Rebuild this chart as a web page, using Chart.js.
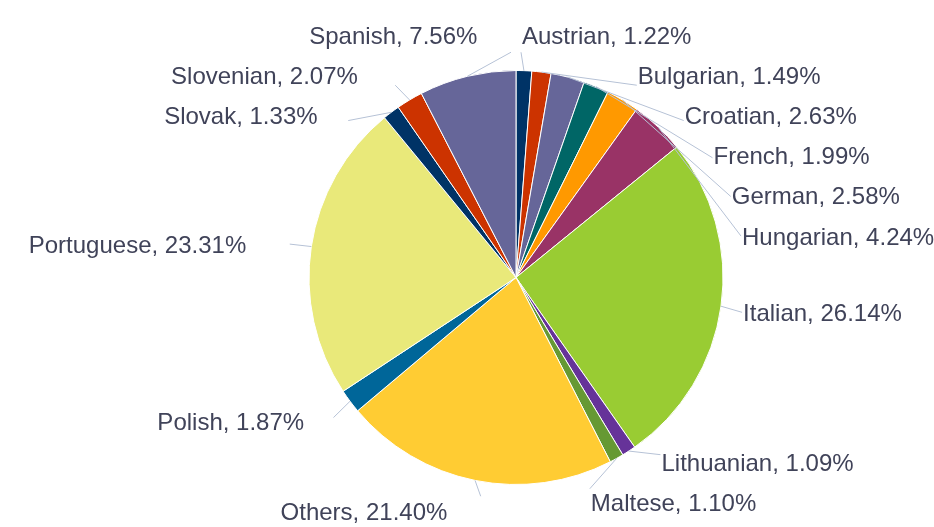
<!DOCTYPE html>
<html>
<head>
<meta charset="utf-8">
<script src="https://cdn.jsdelivr.net/npm/chart.js@4.4.1/dist/chart.umd.min.js"></script>
<style>
  html, body { margin: 0; padding: 0; background: #fff; }
</style>
</head>
<body>
<canvas id="chart" width="934" height="527"></canvas>
<script>
const languages = [
  "Austrian", "Bulgarian", "Croatian", "French", "German", "Hungarian",
  "Italian", "Lithuanian", "Maltese", "Others", "Polish", "Portuguese",
  "Slovak", "Slovenian", "Spanish"
];
const shares = [
  1.22, 1.49, 2.63, 1.99, 2.58, 4.24,
  26.14, 1.09, 1.10, 21.40, 1.87, 23.31,
  1.33, 2.07, 7.56
];
const sliceColors = [
  "#003366", "#cc3300", "#666699", "#006666", "#ff9900", "#993366",
  "#99cc33", "#663399", "#669933", "#ffcc33", "#006699", "#e9e97a",
  "#003366", "#cc3300", "#666699"
];

// spread labels of one side so they keep a minimum vertical gap
function spread(list, minY, maxY, gap) {
  const groups = list.map(it => ({ items: [it] }));
  const place = g => {
    const n = g.items.length;
    const mean = g.items.reduce((s, it) => s + it.ny, 0) / n;
    let top = mean - (n - 1) * gap / 2;
    top = Math.max(minY, Math.min(top, maxY - (n - 1) * gap));
    g.top = top;
  };
  groups.forEach(place);
  let merged = true;
  while (merged) {
    merged = false;
    for (let i = 0; i < groups.length - 1; i++) {
      const a = groups[i], b = groups[i + 1];
      if (a.top + a.items.length * gap > b.top) {
        a.items = a.items.concat(b.items);
        groups.splice(i + 1, 1);
        place(a);
        merged = true;
        break;
      }
    }
  }
  groups.forEach(g => g.items.forEach((it, k) => { it.ty = g.top + k * gap; }));
}

const outsideLabels = {
  id: "outsideLabels",
  afterDatasetsDraw(chart) {
    const arcs = chart.getDatasetMeta(0).data;
    if (!arcs.length) return;
    const ctx = chart.ctx;
    const cx = arcs[0].x, cy = arcs[0].y, r = arcs[0].outerRadius;
    ctx.save();
    ctx.font = '24px "Liberation Sans", Arial, sans-serif';
    const items = arcs.map((arc, i) => {
      const mid = (arc.startAngle + arc.endAngle) / 2;
      const text = languages[i] + ", " + shares[i].toFixed(2) + "%";
      return {
        text,
        right: Math.cos(mid) >= 0,
        px: cx + r * Math.cos(mid),
        py: cy + r * Math.sin(mid),
        ny: cy + 2 + (r + 30) * Math.sin(mid),
        w: ctx.measureText(text).width
      };
    });
    [true, false].forEach(side => {
      spread(items.filter(it => it.right === side).sort((a, b) => a.ny - b.ny), 35, 516, 40.2);
    });

    const ax = r + 16.5, bx = r + 29.5;
    items.forEach(it => {
      const dy = it.ty - cy;
      const k = dy / bx;
      const ex = Math.sqrt(Math.max(0, 1 - k * k)) * ax;
      const anchorX = it.right ? cx + 5 + ex : cx - 5 - ex;
      const endY = it.ty - 16 * k * k * k;

      ctx.strokeStyle = "#b6c2d6";
      ctx.lineWidth = 1;
      ctx.beginPath();
      ctx.moveTo(it.px, it.py);
      ctx.lineTo(anchorX, endY);
      ctx.stroke();

      ctx.fillStyle = "#404359";
      ctx.textBaseline = "middle";
      if (it.right) {
        ctx.textAlign = "left";
        ctx.fillText(it.text, anchorX + 1, it.ty + 2);
      } else {
        ctx.textAlign = "right";
        ctx.fillText(it.text, anchorX - 0.2 * it.w, it.ty + 2);
      }
    });
    ctx.restore();
  }
};

new Chart(document.getElementById("chart"), {
  type: "pie",
  data: {
    labels: languages,
    datasets: [{
      data: shares,
      backgroundColor: sliceColors,
      borderColor: "#ffffff",
      borderWidth: 1,
      hoverOffset: 0
    }]
  },
  options: {
    responsive: false,
    animation: false,
    events: [],
    layout: { padding: { left: 308, right: 210, top: 70, bottom: 42 } },
    plugins: {
      legend: { display: false },
      tooltip: { enabled: false }
    }
  },
  plugins: [outsideLabels]
});
</script>
</body>
</html>
